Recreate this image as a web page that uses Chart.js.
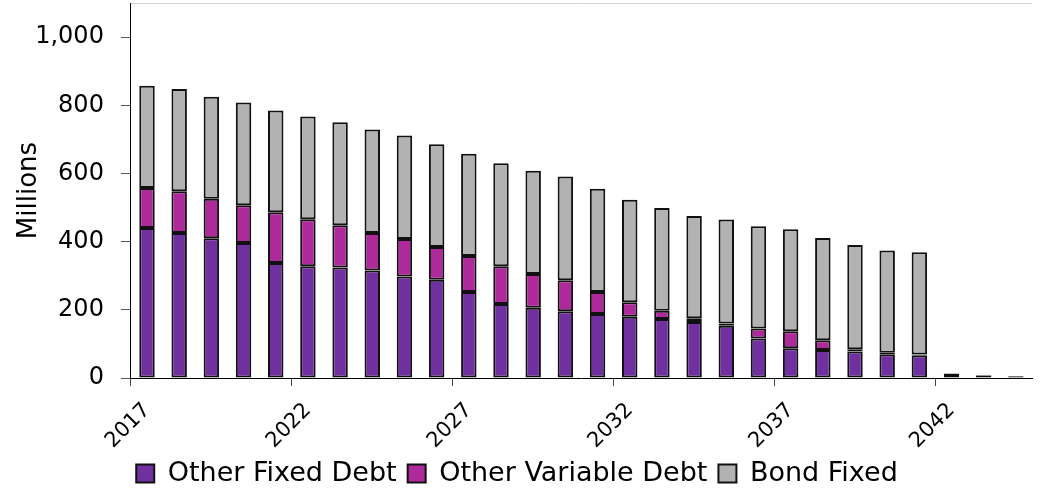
<!DOCTYPE html>
<html>
<head>
<meta charset="utf-8">
<script src="https://cdn.jsdelivr.net/npm/chart.js@4.4.0/dist/chart.umd.min.js"></script>
<style>
  html, body { margin: 0; padding: 0; background: #ffffff; }
  #wrap { width: 1040px; height: 491px; }
</style>
</head>
<body>
<div id="wrap"><canvas id="debt"></canvas></div>
<script>
//Years on the x axis
const years = [2017, 2018, 2019, 2020, 2021, 2022, 2023, 2024, 2025, 2026, 2027, 2028, 2029, 2030,
  2031, 2032, 2033, 2034, 2035, 2036, 2037, 2038, 2039, 2040, 2041, 2042, 2043, 2044];
//Stacked series (millions)
const otherFixed = [440, 425, 410, 396, 337, 328, 324, 315, 298, 288, 252, 217, 206, 196,
  188, 180, 173, 164, 153, 116, 87, 82, 78, 70, 67, 12, 7, 5];
const otherVariable = [117, 123, 116, 111, 149, 138, 124, 110, 110, 96, 106, 111, 99, 91,
  64, 42, 24, 11, 7, 29, 50, 29, 6, 4, 2, 1, 2, 1];
const bondFixed = [300, 300, 299, 301, 299, 301, 302, 304, 303, 302, 300, 302, 303, 304,
  303, 301, 302, 300, 305, 300, 299, 300, 306, 300, 300, 0, 0, 0];
const yTicks = [0, 200, 400, 600, 800, 1000];

const canvas = document.getElementById("debt");
const fontName = "'DejaVu Sans', Verdana, sans-serif";

//thin grey line along the top of the plot area
const topLine = {
  id: "topLine",
  afterDraw(chart) {
    const a = chart.chartArea;
    const c = chart.ctx;
    c.save();
    c.strokeStyle = "#d4d4d4";
    c.lineWidth = 1;
    c.beginPath();
    c.moveTo(a.left, a.top + 0.5);
    c.lineTo(a.right, a.top + 0.5);
    c.stroke();
    c.restore();
  },
};

function barSet(label, values, color) {
  return {
    label: label,
    data: values,
    backgroundColor: color,
    borderColor: "#111111",
    borderWidth: 2,
    borderSkipped: false,
    categoryPercentage: 1,
    barPercentage: 0.48,
  };
}

let debtChart = new Chart(canvas, {
  type: "bar",
  plugins: [topLine],
  data: {
    labels: years,
    datasets: [
      barSet("Other Fixed Debt", otherFixed, "#70309F"),
      barSet("Other Variable Debt", otherVariable, "#AE2A9B"),
      barSet("Bond Fixed", bondFixed, "#B2B2B2"),
    ],
  },
  options: {
    responsive: true,
    maintainAspectRatio: false,
    animation: false,
    layout: { padding: { top: 3, right: 8, left: 2, bottom: -6 } },
    plugins: {
      tooltip: { enabled: false },
      legend: {
        position: "bottom",
        labels: {
          color: "#000000",
          font: { family: fontName, size: 27, lineHeight: 1.0 },
          boxWidth: 18,
          boxHeight: 18,
          padding: 11,
        },
      },
    },
    scales: {
      x: {
        stacked: true,
        //fixed height for the rotated year labels, let them hang past the plot edges
        afterFit: (axis) => {
          axis.height = 71;
          axis.paddingLeft = 0;
          axis.paddingRight = 0;
        },
        grid: {
          offset: true,
          drawOnChartArea: false,
          tickLength: 8,
          color: (ctx) => (ctx.index % 5 === 0 ? "#444444" : "rgba(0,0,0,0)"),
        },
        border: { color: "#000000", width: 1 },
        ticks: {
          autoSkip: false,
          minRotation: 45,
          maxRotation: 45,
          padding: 12,
          color: "#000000",
          font: { family: fontName, size: 21 },
          callback: function (value, index) {
            return index % 5 === 0 ? String(years[index]) : "";
          },
        },
      },
      y: {
        stacked: true,
        min: 0,
        max: 1100,
        afterBuildTicks: (axis) => {
          axis.ticks = yTicks.map((v) => ({ value: v }));
        },
        //no extra room above the plot for the top label
        afterFit: (axis) => {
          axis.paddingTop = 0;
          axis.paddingBottom = 0;
        },
        grid: {
          drawOnChartArea: false,
          tickLength: 10,
          color: "#555555",
        },
        border: { color: "#000000", width: 1 },
        ticks: {
          color: "#000000",
          padding: 17,
          font: { family: fontName, size: 24 },
          callback: (v) => v.toLocaleString("en-US"),
        },
        title: {
          display: true,
          text: "Millions",
          color: "#000000",
          font: { family: fontName, size: 26 },
          padding: { top: 12, bottom: -27 },
        },
      },
    },
  },
});
</script>
</body>
</html>
